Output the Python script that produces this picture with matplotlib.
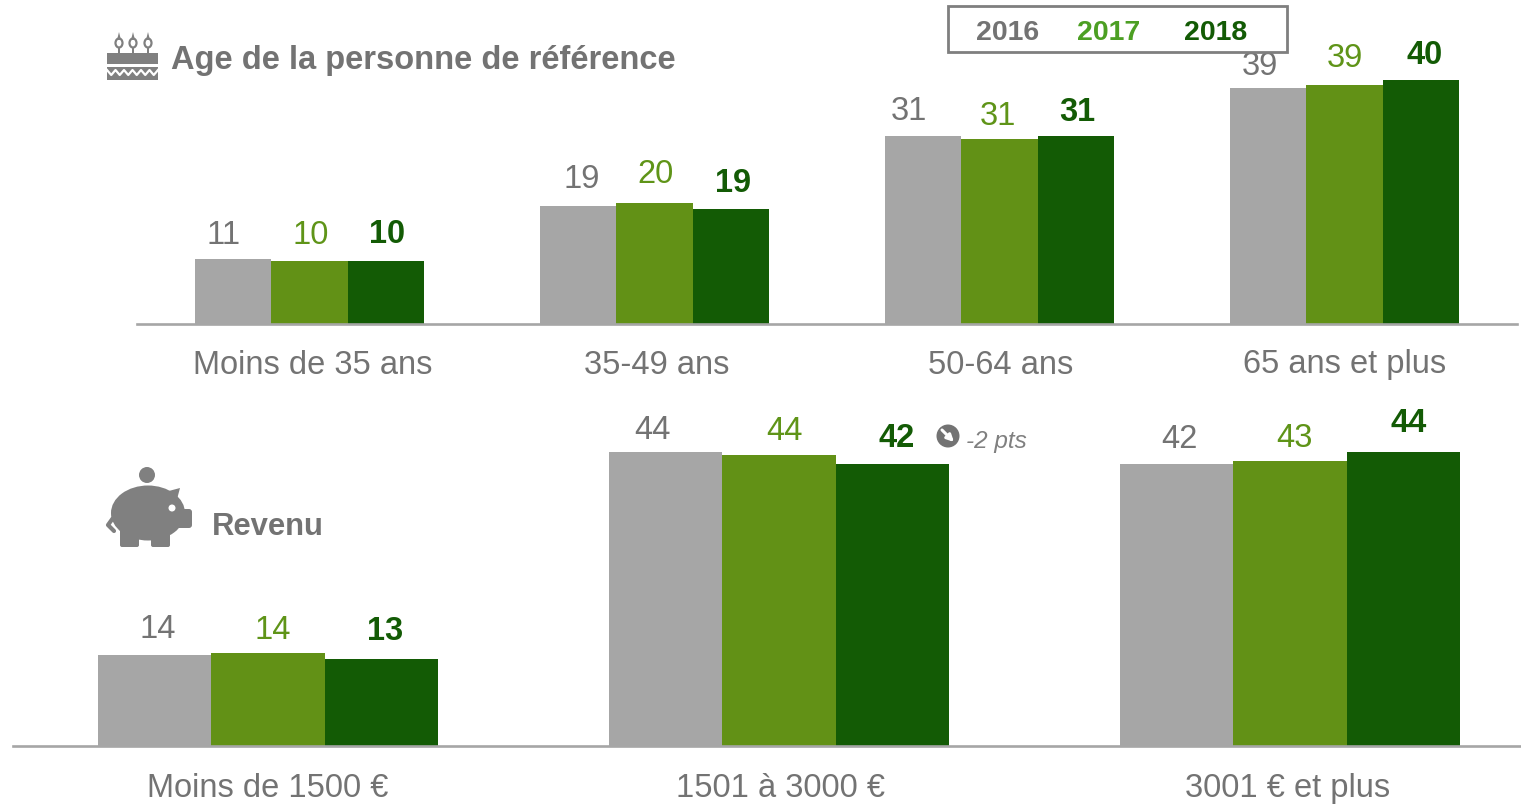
import matplotlib
matplotlib.use('Agg')
import matplotlib.pyplot as plt
from matplotlib.patches import Rectangle, Circle, Ellipse, Polygon, FancyBboxPatch
import numpy as np

W, H = 1521, 805

plt.rcParams['font.family'] = ['Liberation Sans', 'DejaVu Sans']

years = ['2016', '2017', '2018']

age_labels = ['Moins de 35 ans', '35-49 ans', '50-64 ans', '65 ans et plus']
age_2016 = [10.8, 19.45, 31.0, 38.9]
age_2017 = [10.4, 20.0, 30.6, 39.4]
age_2018 = [10.4, 19.1, 31.0, 40.2]

rev_labels = ['Moins de 1500 €', '1501 à 3000 €', '3001 € et plus']
rev_2016 = [13.6, 44.0, 42.1]
rev_2017 = [13.8, 43.5, 42.6]
rev_2018 = [12.9, 42.1, 44.0]

GREY = '#a6a6a6'
GREEN = '#629116'
DARK = '#135b05'
TXT_GREY = '#737373'
TXT_GREEN = '#5f9418'
bar_colors = [GREY, GREEN, DARK]
txt_colors = [TXT_GREY, TXT_GREEN, DARK]

# label nudges from the bar top centre, in pixels (the source has them hand placed)
age_dx = [[-10, 4, -14, -8], [1, 1, -2, 0], [1, 2, 1, 4]]
age_dy = [[24, 28, 26, 23], [27, 30, 23, 28], [28, 26, 25, 26]]
rev_dx = [[3, -13, 3], [5, 5, 4], [4, 4, 5]]
rev_dy = [[26, 22, 26], [24, 24, 23], [29, 27, 29]]
age_tick_dx = [3, 2, 1, 0]
rev_tick_dx = [0, 1, -2]


def px_axes(x0, x1, y0, y1):
    return plt.gcf().add_axes([x0 / W, 1 - y1 / H, (x1 - x0) / W, (y1 - y0) / H])


def grouped(ax, labels, series, width, dx, dy, pad, tick_dx, step):
    x = np.arange(len(labels))
    for i, vals in enumerate(series):
        pos = x + (i - 1) * width
        ax.bar(pos, vals, width, color=bar_colors[i], linewidth=0)
        for j, v in enumerate(vals):
            ax.annotate(f'{v:.0f}', (pos[j], v), xytext=(dx[i][j] * 0.72, (dy[i][j] - 1) * 0.72),
                        textcoords='offset points', ha='center', va='center', fontsize=23.5,
                        color=txt_colors[i], fontweight='bold' if i == 2 else 'normal')
    ax.set_xticks(x + np.array(tick_dx) / step)
    ax.set_xticklabels(labels, fontsize=23.5, color=TXT_GREY)
    ax.tick_params(axis='x', length=0, pad=pad)
    ax.set_yticks([])
    for s in ['top', 'left', 'right']:
        ax.spines[s].set_visible(False)
    ax.spines['bottom'].set_color(GREY)
    ax.spines['bottom'].set_linewidth(1.9)
    ax.patch.set_alpha(0)


fig = plt.figure(figsize=(W / 100, H / 100), dpi=100)

ax1 = px_axes(137, 1517, 0, 324.5)
grouped(ax1, age_labels, [age_2016, age_2017, age_2018], 0.2215, age_dx, age_dy, 18, age_tick_dx, 345)
ax1.set_xlim(-0.5, 3.5)
ax1.set_ylim(0, 324.5 / 6.07)

ax2 = px_axes(12.5, 1522, 400, 745.5)
grouped(ax2, rev_labels, [rev_2016, rev_2017, rev_2018], 0.2215, rev_dx, rev_dy, 20, rev_tick_dx, 511)
ax2.set_xlim(-0.5, 2.454)
ax2.set_ylim(0, 345.5 / 6.68)

# overlay in pixel coordinates for titles, legend box and icons
ov = fig.add_axes([0, 0, 1, 1])
ov.set_xlim(0, W)
ov.set_ylim(H, 0)
ov.axis('off')
ov.patch.set_alpha(0)

ov.text(171, 60.5, 'Age de la personne de référence', fontsize=23.5, fontweight='bold',
        color=TXT_GREY, va='center', ha='left')
ov.text(212, 527, 'Revenu', fontsize=22.3, fontweight='bold', color=TXT_GREY, va='center', ha='left')

# legend
ov.add_patch(Rectangle((948, 6), 339, 46, fill=False, edgecolor='#7f7f7f', linewidth=2))
for yr, xc, c in zip(years, [1008, 1109, 1216], [TXT_GREY, '#4c9f23', DARK]):
    ov.text(xc, 33, yr, fontsize=20.5, fontweight='bold', color=c, ha='center', va='center')

# -2 pts marker
ov.add_patch(Circle((948, 436), 11.5, color='#737373', linewidth=0))
ov.annotate('', xy=(954, 442), xytext=(942, 430),
            arrowprops=dict(arrowstyle='-|>', color='white', lw=2.2, mutation_scale=10, shrinkA=0, shrinkB=0))
ov.text(966, 441, '-2 pts', fontsize=17.5, style='italic', color='#808080', va='center', ha='left')

# cake icon
ic = '#808080'
ov.add_patch(Rectangle((107, 53), 51, 11, color=ic, linewidth=0))
ov.add_patch(Rectangle((107, 67), 51, 13, color=ic, linewidth=0))
ov.plot(np.arange(107, 159, 4.25), [70, 75] * 6 + [70], color='white', lw=1.6)
for cx in [119, 133, 148]:
    ov.add_patch(Rectangle((cx - 1, 44), 2, 9, color=ic, linewidth=0))
    ov.add_patch(Ellipse((cx, 43), 7, 9, facecolor='white', edgecolor=ic, linewidth=1.6))
    ov.add_patch(Polygon([(cx - 2, 40), (cx + 2, 40), (cx, 32)], color=ic, linewidth=0))

# piggy bank icon
ov.add_patch(Circle((147, 475), 8, color=ic, linewidth=0))
ov.add_patch(Ellipse((148, 513), 74, 55, color=ic, linewidth=0))
ov.add_patch(Polygon([(165, 492), (180, 488), (176, 503), (170, 505)], color=ic, linewidth=0))
ov.add_patch(FancyBboxPatch((165, 509), 27, 19, boxstyle='round,pad=0,rounding_size=3', color=ic, linewidth=0))
ov.add_patch(FancyBboxPatch((120, 525), 19, 22, boxstyle='round,pad=0,rounding_size=2', color=ic, linewidth=0))
ov.add_patch(FancyBboxPatch((151, 525), 19, 22, boxstyle='round,pad=0,rounding_size=2', color=ic, linewidth=0))
ov.add_patch(Circle((172, 508), 3.5, color='white', linewidth=0))
ov.plot([113, 108, 114], [518, 525, 531], color=ic, lw=3, solid_capstyle='round')

fig.savefig('out.png', dpi=100)
